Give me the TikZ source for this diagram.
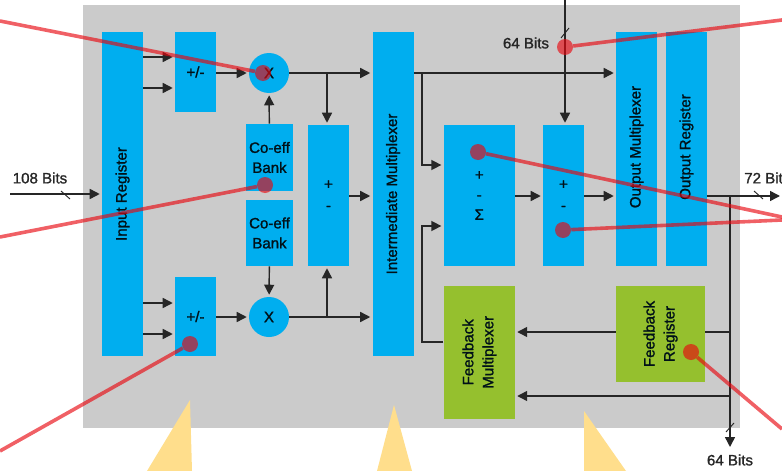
\documentclass[tikz,border=0pt]{standalone}
\usepackage{fontspec}
\usepackage{tikz}
\usepackage{xcolor}
\usetikzlibrary{arrows.meta,positioning,calc}
\setmainfont{Liberation Sans}[RawFeature={embolden=1.3}]
\definecolor{panelgrey}{HTML}{CBCBCB}
\definecolor{blockblue}{HTML}{00AEEF}
\definecolor{blockgreen}{HTML}{95C02E}
\definecolor{pointerred}{RGB}{232,6,14}
\definecolor{calloutyellow}{HTML}{FFDE8C}
\newcommand{\sidetext}[1]{\rotatebox{90}{\begin{tabular}{@{}c@{}}#1\end{tabular}}}

\begin{document}
\begin{tikzpicture}[
x=0.75pt, y=-0.75pt,
font=\fontsize{11.3}{15}\selectfont,
block/.style={fill=blockblue, inner sep=0pt, align=center, text=black!90!blockblue},
narrowblock/.style={block, minimum width=30.75pt},
fbblock/.style={block, fill=blockgreen},
mult/.style={block, circle, minimum size=30pt},
arrow/.style={-{Triangle[length=7.5pt,width=7.5pt]}, line width=1.1pt, draw=black!85, shorten >=1.5pt},
wire/.style={line width=1.1pt, draw=black!85},
slash/.style={line width=0.7pt, draw=black!85},
bits/.style={text=black!85, inner sep=0pt},
pointer/.style={line width=2.7pt, draw=pointerred, opacity=0.64},
pointerdot/.style={fill=pointerred, opacity=0.64, circle, minimum size=12pt, inner sep=0pt},
callout/.style={fill=calloutyellow}
]
\useasboundingbox (0,0) rectangle (782,471);
\fill[panelgrey] (83,5) rectangle (739.5,428);

% blocks
\node[narrowblock, minimum height=243pt] (input) at (122.5,194) {\sidetext{Input Register}};
\node[narrowblock, minimum height=60pt] (addtop) at (195.5,72) {+/-};
\node[mult] (multtop) at (269,73) {X};
\node[block, minimum width=35.25pt, minimum height=50.25pt] (coefftop) at (269.5,157.5) {Co-eff\\Bank};
\node[block, minimum width=35.25pt, minimum height=49.5pt] (coeffbot) at (269.5,233) {Co-eff\\Bank};
\node[narrowblock, minimum height=105.75pt] (addmid) at (328.5,195.5) {+\\[1pt]-};
\node[narrowblock, minimum height=59.25pt] (addbot) at (195.5,316.5) {+/-};
\node[mult] (multbot) at (269,317) {X};
\node[narrowblock, minimum height=243pt] (intermux) at (393,194) {\sidetext{Intermediate Multiplexer}};
\node[block, minimum width=53.5pt, minimum height=105.75pt] (sum) at (479.3,195.5) {+\\[0pt]-\\[0pt]Σ};
\node[narrowblock, minimum height=105.75pt] (addout) at (563.5,195.5) {+\\[1pt]-};
\node[narrowblock, minimum height=175.5pt] (outmux) at (636.5,149) {\raisebox{3pt}{\sidetext{Output Multiplexer}}};
\node[narrowblock, minimum width=30.4pt, minimum height=175.5pt] (outreg) at (686.3,149) {\raisebox{3pt}{\sidetext{Output Register}}};
\node[fbblock, minimum width=53.5pt, minimum height=99.5pt] (fbmux) at (479.3,352.3) {\sidetext{Feedback\\Multiplexer}};
\node[fbblock, minimum width=66.75pt, minimum height=72pt] (fbreg) at (660.5,334) {\sidetext{Feedback\\Register}};

% free ends and bus lines
\coordinate (inleft) at (10,194);
\coordinate (topin) at (565,0);
\coordinate (outright) at (782,196);
\coordinate (outbelow) at (730,449);
\coordinate (rowa) at (0,57);
\coordinate (rowb) at (0,88);
\coordinate (rowc) at (0,303);
\coordinate (rowd) at (0,334);
\coordinate (rowe) at (0,196);
\coordinate (rowf) at (0,165);
\coordinate (rowg) at (0,226);
\coordinate (rowh) at (0,342);
\coordinate (rowi) at (0,332);
\coordinate (rowj) at (0,396);
\coordinate (busleft) at (327,0);
\coordinate (busmid) at (422,0);
\coordinate (busright) at (730,0);

\draw[arrow] (inleft) -- (input.west |- inleft);
\draw[arrow] (input.east |- rowa) -- (addtop.west |- rowa);
\draw[arrow] (input.east |- rowb) -- (addtop.west |- rowb);
\draw[arrow] (input.east |- rowc) -- (addbot.west |- rowc);
\draw[arrow] (input.east |- rowd) -- (addbot.west |- rowd);
\draw[arrow] (addtop.east |- multtop) -- (multtop);
\draw[arrow] (addbot.east |- multbot) -- (multbot);
\draw[arrow] (coefftop) -- (multtop);
\draw[arrow] (coeffbot) -- (multbot);
\draw[arrow] (multtop) -- (intermux.west |- multtop);
\draw[arrow] (multbot) -- (intermux.west |- multbot);
\draw[arrow] (busleft |- multtop) -- (busleft |- addmid.north);
\draw[arrow] (busleft |- multbot) -- (busleft |- addmid.south);
\draw[arrow] (addmid.east |- rowe) -- (intermux.west |- rowe);
\draw[arrow] (intermux.east |- multtop) -- (outmux.west |- multtop);
\draw[arrow] (busmid |- multtop) -- (busmid |- rowf) -- (sum.west |- rowf);
\draw[arrow] (fbmux.west |- rowh) -- (busmid |- rowh) -- (busmid |- rowg) -- (sum.west |- rowg);
\draw[arrow] (sum.east |- rowe) -- (addout.west |- rowe);
\draw[arrow] (addout.east |- rowe) -- (outmux.west |- rowe);
\draw[arrow] (topin) -- (topin |- addout.north);
\draw[arrow] (outreg.east |- rowe) -- (outright);
\draw[arrow] (busright |- rowe) -- (outbelow);
\draw[arrow] (fbreg.west |- rowi) -- (fbmux.east |- rowi);
\draw[wire] (fbreg.east |- rowi) -- (busright |- rowi);
\draw[arrow] (busright |- rowj) -- (fbmux.east |- rowj);

% bit width marks
\draw[slash] (61,191) -- (70,199);
\draw[slash] (561,38) -- (569,28);
\draw[slash] (754,191) -- (763,199);
\draw[slash] (726,432) -- (734,423);
\node[bits] (bitsin) at (40,178) {108 Bits};
\node[bits] (bitstop) at (526,43) {64 Bits};
\node[bits, anchor=west] (bitsout) at (744,178) {72 Bits};
\node[bits] (bitsbelow) at (730,460) {64 Bits};

% call out wedges
\fill[callout] (190,400) -- (192,471) -- (147,471) -- cycle;
\fill[callout] (394,405) -- (412,471) -- (377,471) -- cycle;
\fill[callout] (584,411) -- (626,471) -- (584,471) -- cycle;

% pointers
\coordinate (ptra) at (0,21);
\coordinate (ptrb) at (0,237);
\coordinate (ptrc) at (0,451);
\coordinate (ptrd) at (782,20);
\coordinate (ptre) at (782,217);
\coordinate (ptrf) at (782,220);
\coordinate (ptrg) at (782,429);
\node[pointerdot] (dota) at (263,73) {};
\node[pointerdot] (dotb) at (265,185) {};
\node[pointerdot] (dotc) at (190,344) {};
\node[pointerdot] (dotd) at (565,47) {};
\node[pointerdot] (dote) at (478,152) {};
\node[pointerdot] (dotf) at (563,230) {};
\node[pointerdot] (dotg) at (691,352) {};
\draw[pointer] (ptra) -- (dota);
\draw[pointer] (ptrb) -- (dotb);
\draw[pointer] (ptrc) -- (dotc);
\draw[pointer] (ptrd) -- (dotd);
\draw[pointer] (ptre) -- (dote);
\draw[pointer] (ptrf) -- (dotf);
\draw[pointer] (ptrg) -- (dotg);
\end{tikzpicture}
\end{document}
